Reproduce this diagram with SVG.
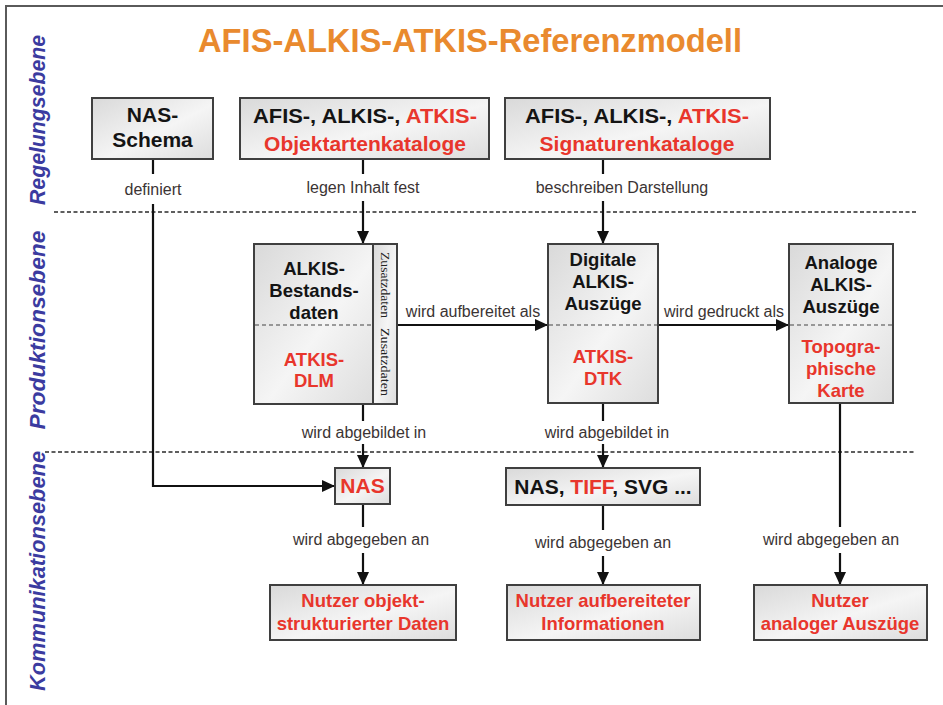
<svg xmlns="http://www.w3.org/2000/svg" width="943" height="705" viewBox="0 0 943 705">
<defs>
<linearGradient id="g" x1="0" y1="0" x2="1" y2="1">
<stop offset="0" stop-color="#d9d9d9"/>
<stop offset="0.55" stop-color="#f5f5f5"/>
<stop offset="1" stop-color="#dddddd"/>
</linearGradient>
<marker id="ah" markerUnits="userSpaceOnUse" markerWidth="14" markerHeight="12" refX="13" refY="6" orient="auto">
<path d="M0,0 L13,6 L0,12 z" fill="#111"/>
</marker>
</defs>
<style>
.box{fill:url(#g);stroke:#3f3f3f;stroke-width:2}
.t{font-family:"Liberation Sans",Arial,sans-serif;font-weight:bold;text-anchor:middle;fill:#141414}
.big{font-size:21px}
.mid{font-size:18.5px}
.r{fill:#e8362c}
.lab{font-family:"Liberation Sans",Arial,sans-serif;font-size:16px;text-anchor:middle;fill:#3b3434}
.lane{font-family:"Liberation Sans",Arial,sans-serif;font-size:21.5px;font-weight:bold;font-style:italic;fill:#3b3ba0;text-anchor:middle}
.conn{fill:none;stroke:#111;stroke-width:2.2}
.sep{stroke:#2a2a2a;stroke-width:1.3;stroke-dasharray:4 2.5;fill:none}
.div{stroke:#444;stroke-width:1.2;stroke-dasharray:4 3;fill:none}
.zus{font-family:"Liberation Serif","Times New Roman",serif;font-size:13px;text-anchor:middle;fill:#222}
</style>

<path d="M6,705 V6 H943" fill="none" stroke="#5a5a5a" stroke-width="2"/>

<text x="470" y="52" font-family="Liberation Sans, Arial, sans-serif" font-weight="bold" font-size="32.5" fill="#e98a2e" text-anchor="middle" textLength="544" lengthAdjust="spacingAndGlyphs">AFIS-ALKIS-ATKIS-Referenzmodell</text>

<text class="lane" transform="translate(45,120) rotate(-90)" textLength="170" lengthAdjust="spacingAndGlyphs">Regelungsebene</text>
<text class="lane" transform="translate(45,330) rotate(-90)" textLength="199" lengthAdjust="spacingAndGlyphs">Produktionsebene</text>
<text class="lane" transform="translate(45,571) rotate(-90)" textLength="240" lengthAdjust="spacingAndGlyphs">Kommunikationsebene</text>

<path class="sep" d="M54,212 H918"/>
<path class="sep" d="M45,452 H914"/>

<g id="connectors">
<path class="conn" d="M153,159 V174"/>
<path class="conn" d="M153,204 V486 H335" marker-end="url(#ah)"/>
<path class="conn" d="M363,159 V174"/>
<path class="conn" d="M363,201 V244" marker-end="url(#ah)"/>
<path class="conn" d="M603,160 V174"/>
<path class="conn" d="M603,201 V244" marker-end="url(#ah)"/>
<path class="conn" d="M397,325 H548" marker-end="url(#ah)"/>
<path class="conn" d="M658,325 H789" marker-end="url(#ah)"/>
<path class="conn" d="M363,404 V421"/>
<path class="conn" d="M363,444 V468" marker-end="url(#ah)"/>
<path class="conn" d="M363,504 V527"/>
<path class="conn" d="M363,553 V585" marker-end="url(#ah)"/>
<path class="conn" d="M603,403 V421"/>
<path class="conn" d="M603,444 V468" marker-end="url(#ah)"/>
<path class="conn" d="M603,505 V530"/>
<path class="conn" d="M603,556 V585" marker-end="url(#ah)"/>
<path class="conn" d="M840,403 V527"/>
<path class="conn" d="M840,553 V585" marker-end="url(#ah)"/>
<text class="lab" x="153" y="195">definiert</text>
<text class="lab" x="363" y="193">legen Inhalt  fest</text>
<text class="lab" x="622" y="193">beschreiben Darstellung</text>
<text class="lab" x="473" y="317">wird aufbereitet als</text>
<text class="lab" x="724" y="317">wird gedruckt als</text>
<text class="lab" x="364" y="438">wird abgebildet in</text>
<text class="lab" x="607" y="438">wird abgebildet in</text>
<text class="lab" x="361" y="545">wird abgegeben an</text>
<text class="lab" x="603" y="548">wird abgegeben an</text>
<text class="lab" x="831" y="545">wird abgegeben an</text>
</g>

<g id="nas-schema">
<rect class="box" x="92" y="98" width="121" height="61"/>
<text class="t big" x="152.5" y="122">NAS-</text>
<text class="t big" x="152.5" y="147">Schema</text>
</g>

<g id="objektartenkataloge">
<rect class="box" x="240" y="98" width="249" height="61"/>
<text class="t big" x="365" y="123" textLength="224" lengthAdjust="spacingAndGlyphs">AFIS-, ALKIS-, <tspan class="r">ATKIS-</tspan></text>
<text class="t big r" x="365" y="151">Objektartenkataloge</text>
</g>

<g id="signaturenkataloge">
<rect class="box" x="505" y="98" width="265" height="61"/>
<text class="t big" x="637" y="123" textLength="224" lengthAdjust="spacingAndGlyphs">AFIS-, ALKIS-, <tspan class="r">ATKIS-</tspan></text>
<text class="t big r" x="637" y="151">Signaturenkataloge</text>
</g>

<g id="alkis-bestandsdaten">
<rect class="box" x="254" y="244" width="119" height="160"/>
<rect class="box" x="373" y="244" width="24" height="160"/>
<path class="div" d="M255,325 H373"/>
<text class="t mid" x="314" y="275">ALKIS-</text>
<text class="t mid" x="314" y="297">Bestands-</text>
<text class="t mid" x="314" y="319">daten</text>
<text class="t mid r" x="314" y="366">ATKIS-</text>
<text class="t mid r" x="314" y="387">DLM</text>
<text class="zus" transform="translate(381,285) rotate(90)" textLength="66" lengthAdjust="spacingAndGlyphs">Zusatzdaten</text>
<text class="zus r" transform="translate(381,362) rotate(90)" textLength="68" lengthAdjust="spacingAndGlyphs">Zusatzdaten</text>
</g>

<g id="digitale-auszuege">
<rect class="box" x="548" y="244" width="110" height="159"/>
<path class="div" d="M549,325 H657"/>
<text class="t mid" x="603" y="266">Digitale</text>
<text class="t mid" x="603" y="288">ALKIS-</text>
<text class="t mid" x="603" y="310">Auszüge</text>
<text class="t mid r" x="603" y="363">ATKIS-</text>
<text class="t mid r" x="603" y="385">DTK</text>
</g>

<g id="analoge-auszuege">
<rect class="box" x="789" y="244" width="104" height="159"/>
<path class="div" d="M790,325 H892"/>
<text class="t mid" x="841" y="269">Analoge</text>
<text class="t mid" x="841" y="291">ALKIS-</text>
<text class="t mid" x="841" y="313">Auszüge</text>
<text class="t mid r" x="841" y="353">Topogra-</text>
<text class="t mid r" x="841" y="375">phische</text>
<text class="t mid r" x="841" y="397">Karte</text>
</g>

<g id="nas">
<rect class="box" x="335" y="468" width="55" height="36"/>
<text class="t big r" x="362.5" y="493">NAS</text>
</g>

<g id="formate">
<rect class="box" x="506" y="468" width="194" height="37"/>
<text class="t big" x="603" y="494">NAS, <tspan class="r">TIFF</tspan>, SVG ...</text>
</g>

<g id="nutzer-objekt">
<rect class="box" x="270" y="585" width="186" height="55"/>
<text class="t mid r" x="363" y="607">Nutzer objekt-</text>
<text class="t mid r" x="363" y="630">strukturierter Daten</text>
</g>

<g id="nutzer-aufbereitet">
<rect class="box" x="507" y="585" width="193" height="55"/>
<text class="t mid r" x="603" y="607">Nutzer aufbereiteter</text>
<text class="t mid r" x="603" y="630">Informationen</text>
</g>

<g id="nutzer-analog">
<rect class="box" x="754" y="585" width="173" height="55"/>
<text class="t mid r" x="840" y="607">Nutzer</text>
<text class="t mid r" x="840" y="630">analoger Auszüge</text>
</g>
</svg>
